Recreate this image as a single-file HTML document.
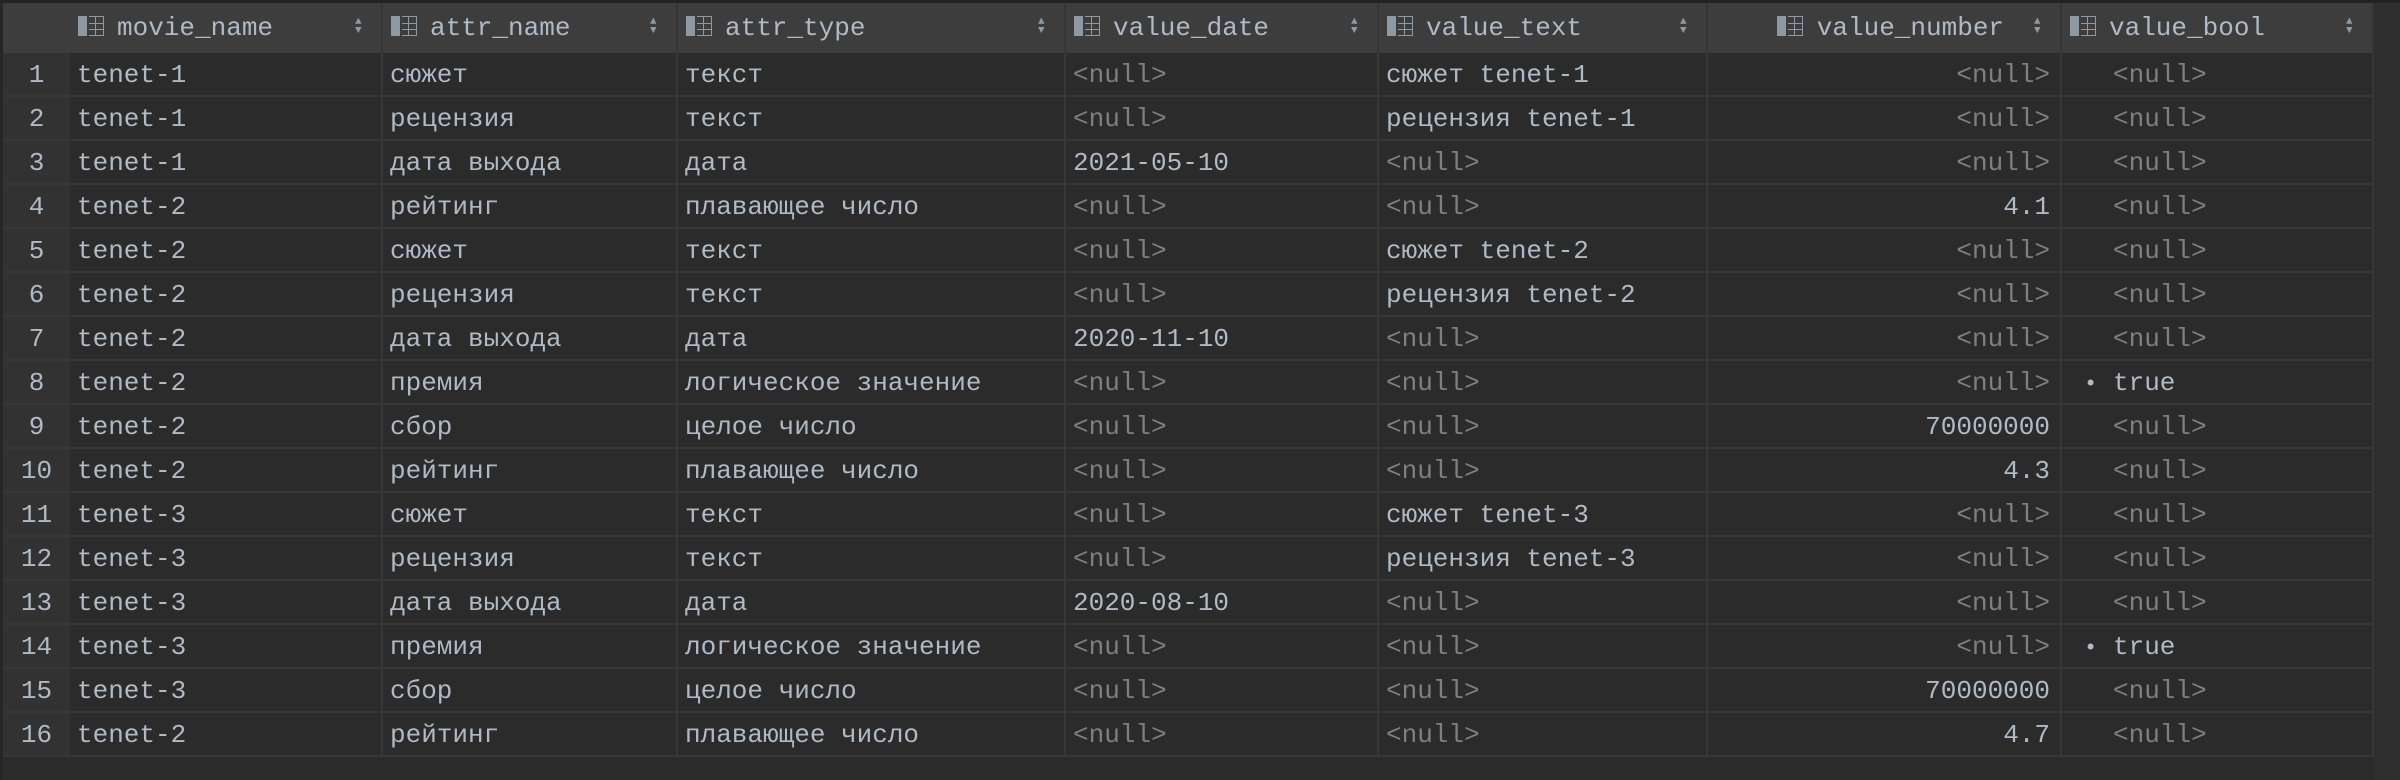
<!DOCTYPE html>
<html><head><meta charset="utf-8"><style>
body{margin:0;width:2400px;height:780px;background:#2b2b2b;overflow:hidden;position:relative;font-family:"Liberation Mono","DejaVu Sans Mono",monospace;font-size:26px;color:#afbac6}
.c{position:absolute;height:44px;line-height:44px;box-sizing:border-box;border-right:2px solid #373737;border-bottom:2px solid #373737;white-space:pre;overflow:hidden}
.h{position:absolute;top:3px;height:50px;line-height:50px;background:#3d3d3d;box-sizing:border-box;border-right:2px solid #353535;white-space:pre}
.n{color:#7f7f7f}
.ic{position:absolute;top:16px;width:26px;height:20px}
.ic:before{content:"";position:absolute;left:0;top:0;width:9px;height:20px;background:#8d99a3}
.ic:after{content:"";position:absolute;left:11px;top:0;width:14px;height:18px;border:1px solid #8d99a3;border-left:none;background:linear-gradient(#8d99a3,#8d99a3) 0 6px/100% 1px no-repeat,linear-gradient(#8d99a3,#8d99a3) 0 12px/100% 1px no-repeat,linear-gradient(#8d99a3,#8d99a3) 6px 0/1px 100% no-repeat}
.s{position:absolute;top:0;font-size:16px;color:#8d99a3;line-height:1}
</style></head><body>
<div style="position:absolute;left:0;top:0;width:2400px;height:3px;background:#232323"></div>
<div style="position:absolute;left:0;top:3px;width:3px;height:777px;background:#262626"></div>
<div style="position:absolute;left:2374px;top:3px;width:26px;height:777px;background:#2e2e2e"></div>
<div style="position:absolute;left:3px;top:3px;width:67px;height:50px;background:#3d3d3d"></div>
<div id="hd"></div>
<div id="bd"></div>
<script>
var X=[70,383,678,1066,1379,1708,2062,2374];
var H=["movie_name","attr_name","attr_type","value_date","value_text","value_number","value_bool"];
var hd="";
for(var i=0;i<7;i++){var l=X[i],w=X[i+1]-l;
 var tx=i==5?(X[6]-10-26*0.6*12-48):l+47;
 var ix=i==5?tx-40:l+8;
 hd+='<div class="h" style="left:'+l+'px;width:'+w+'px"></div><div class="ic" style="left:'+ix+'px"></div><div style="position:absolute;top:3px;left:'+tx+'px;line-height:50px">'+H[i]+'</div><div class="s" style="left:'+(X[i+1]-28)+'px;top:18px;font-size:11px;line-height:9px">▲<br>▼</div>';}
document.getElementById("hd").innerHTML=hd;
var N="<null>";
var R=[
["tenet-1","сюжет","текст",N,"сюжет tenet-1",N,N],
["tenet-1","рецензия","текст",N,"рецензия tenet-1",N,N],
["tenet-1","дата выхода","дата","2021-05-10",N,N,N],
["tenet-2","рейтинг","плавающее число",N,N,"4.1",N],
["tenet-2","сюжет","текст",N,"сюжет tenet-2",N,N],
["tenet-2","рецензия","текст",N,"рецензия tenet-2",N,N],
["tenet-2","дата выхода","дата","2020-11-10",N,N,N],
["tenet-2","премия","логическое значение",N,N,N,"true"],
["tenet-2","сбор","целое число",N,N,"70000000",N],
["tenet-2","рейтинг","плавающее число",N,N,"4.3",N],
["tenet-3","сюжет","текст",N,"сюжет tenet-3",N,N],
["tenet-3","рецензия","текст",N,"рецензия tenet-3",N,N],
["tenet-3","дата выхода","дата","2020-08-10",N,N,N],
["tenet-3","премия","логическое значение",N,N,N,"true"],
["tenet-3","сбор","целое число",N,N,"70000000",N],
["tenet-2","рейтинг","плавающее число",N,N,"4.7",N]];
function esc(s){return s.replace(/</g,"&lt;").replace(/>/g,"&gt;")}
var b="";
for(var r=0;r<16;r++){var t=53+r*44;
 b+='<div class="c" style="left:3px;top:'+t+'px;width:67px;background:#323232;text-align:center;border-right:none">'+(r+1)+'</div>';
 for(var i=0;i<7;i++){var l=X[i],w=X[i+1]-l,v=R[r][i],cl=v==N?' n':'';
  var st='left:'+l+'px;top:'+t+'px;width:'+w+'px;';
  if(i==5)st+='text-align:right;padding-right:10px;';
  else if(i==6)st+='padding-left:'+(v=="true"?22:51)+'px;';
  else st+='padding-left:7px;';
  var txt=esc(v); if(i==6&&v=="true")txt='<span style="display:inline-block;width:29px;font-size:22px">•</span>true';
  b+='<div class="c'+cl+'" style="'+st+'">'+txt+'</div>';}}
document.getElementById("bd").innerHTML=b;
</script>
</body></html>
